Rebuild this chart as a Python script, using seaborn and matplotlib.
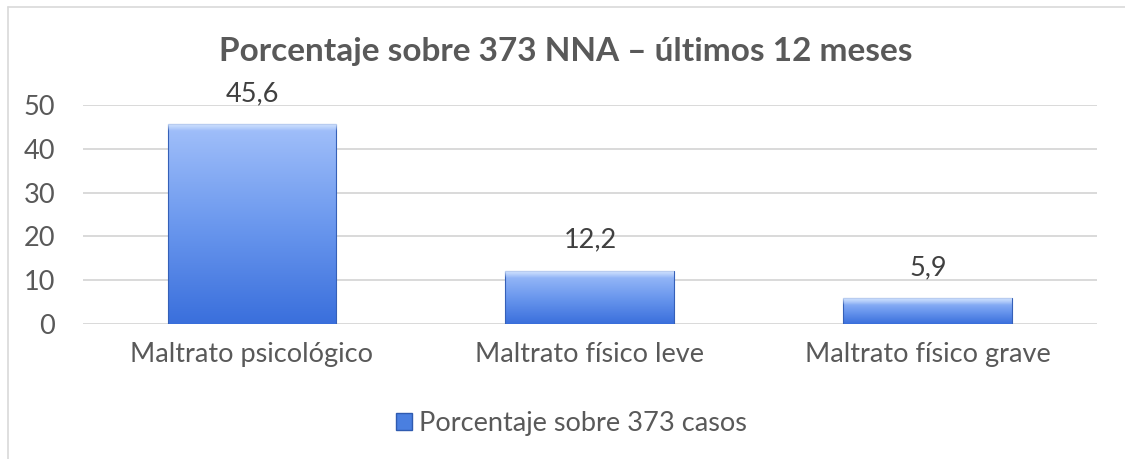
import numpy as np
import pandas as pd
import matplotlib
matplotlib.use('Agg')
import matplotlib.pyplot as plt
import seaborn as sns
from matplotlib.colors import LinearSegmentedColormap
from matplotlib.lines import Line2D
from matplotlib.patches import Rectangle

# Datos
categorias = ["Maltrato psicológico", "Maltrato físico leve", "Maltrato físico grave"]
porcentajes = [45.6, 12.2, 5.9]
etiquetas = ["45,6", "12,2", "5,9"]
serie = "Porcentaje sobre 373 casos"
titulo = "Porcentaje sobre 373 NNA – últimos 12 meses"

df = pd.DataFrame({"categoria": categorias, "valor": porcentajes})

sns.set_style("white")
plt.rcParams['font.family'] = ['Lato', 'DejaVu Sans']

GRIS = "#595959"
fig = plt.figure(figsize=(11.25, 4.59), dpi=100)
ax = fig.add_axes([0.0738, 0.294, 0.9012, 0.477])

sns.barplot(data=df, x="categoria", y="valor", color="#4a7fe0", width=0.5,
            ax=ax, zorder=3)

ax.set_ylim(0, 50)
ax.set_yticks([0, 10, 20, 30, 40, 50])
ax.yaxis.grid(True, color="#d9d9d9", linewidth=1.4, zorder=0)
ax.set_axisbelow(True)
for s in ax.spines.values():
    s.set_visible(False)
ax.set_xlabel("")
ax.set_ylabel("")
ax.tick_params(axis='both', length=0, labelsize=19.5, labelcolor=GRIS)
ax.tick_params(axis='y', pad=20)
ax.tick_params(axis='x', pad=13)

# degradado tipo Excel en cada barra
grad = LinearSegmentedColormap.from_list("g", ["#3a6fdc", "#6b98ee", "#a2c0fa"])
img = np.linspace(0, 1, 256).reshape(-1, 1)
brillo = np.zeros((64, 1, 4))
brillo[:, 0, :3] = [0.86, 0.92, 1.0]
brillo[:, 0, 3] = np.linspace(0, 0.85, 64)
px = 50 / 219  # unidades de datos por pixel
for p, lab in zip(ax.patches, etiquetas):
    x0, y0 = p.get_x(), p.get_y()
    w, h = p.get_width(), p.get_height()
    p.set_facecolor("none")
    p.set_edgecolor("#3560b8")
    p.set_linewidth(0.8)
    im = ax.imshow(img, cmap=grad, aspect='auto', origin='lower',
                   extent=[x0, x0 + w, y0, y0 + h], zorder=2.9)
    im.set_clip_path(p)
    hl = 7 * px
    im2 = ax.imshow(brillo, aspect='auto', origin='lower',
                    extent=[x0, x0 + w, y0 + h - hl, y0 + h], zorder=3.05)
    im2.set_clip_path(p)
    ax.annotate(lab, (x0 + w / 2, y0 + h), xytext=(0, 13), textcoords="offset points",
                ha="center", va="bottom", fontsize=19.5, color="#404040",
                annotation_clip=False)

ax.set_xlim(-0.5, 2.5)

fig.text(0.503, 0.887, titulo, ha="center", va="center", fontsize=24,
         fontweight="bold", color=GRIS)

h_leg = Rectangle((0, 0), 1, 1, facecolor="#4a7fe0", edgecolor="#2f5bb0")
fig.legend([h_leg], [serie], loc="center", bbox_to_anchor=(0.508, 0.078),
           frameon=False, fontsize=19.5, labelcolor=GRIS, handlelength=0.6,
           handleheight=0.6, handletextpad=0.25)

# borde del gráfico
fig.add_artist(Line2D([8 / 1125, 1], [1 - 7 / 459, 1 - 7 / 459], color="#d9d9d9", lw=1.2))
fig.add_artist(Line2D([8 / 1125, 8 / 1125], [0, 1 - 7 / 459], color="#d9d9d9", lw=1.2))

fig.savefig("out.png", dpi=100)
